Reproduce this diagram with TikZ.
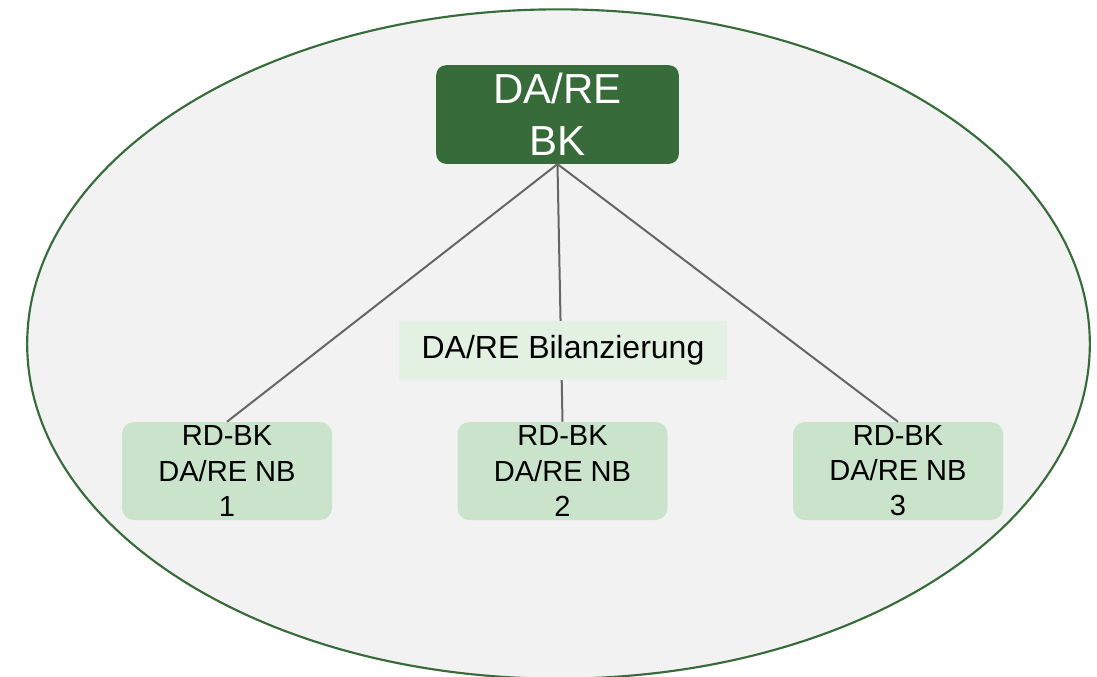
\documentclass[tikz,border=0pt]{standalone}
\usepackage{fontspec}
\setmainfont{Liberation Sans}
\usetikzlibrary{shapes.geometric}
\definecolor{dkgreen}{HTML}{376B3A}
\definecolor{bgray}{HTML}{F2F2F2}
\definecolor{lblgreen}{HTML}{E3F1E3}
\definecolor{boxgreen}{HTML}{C9E4CB}
\definecolor{linegray}{HTML}{666666}
\begin{document}
\begin{tikzpicture}[x=0.75pt,y=-0.75pt,
  topbox/.style={fill=dkgreen, rounded corners=7.5pt, minimum width=182pt, minimum height=74pt, inner sep=0pt, text=white, align=center, font=\fontsize{31.5}{39}\selectfont},
  lblbox/.style={fill=lblgreen, minimum width=246pt, minimum height=44pt, inner sep=0pt, align=center, font=\fontsize{24}{28}\selectfont},
  nbbox/.style={fill=boxgreen, rounded corners=9pt, minimum width=157.5pt, minimum height=73.5pt, inner sep=0pt, align=center, font=\fontsize{21.8}{26.3}\selectfont},
  conn/.style={draw=linegray, line width=1.5pt}]
\useasboundingbox (0,0) rectangle (1097,676);
\begin{scope}
\clip (0,0) rectangle (1097,676);
\node[draw=dkgreen, line width=1.6pt, fill=bgray, ellipse, minimum width=797pt, minimum height=502pt, inner sep=0pt] (ell) at (558.5,344) {};
\end{scope}
\node[topbox] (top) at (557.5,114.5) {DA/RE\\BK};
\node[nbbox] (b1) at (227,471) {RD-BK\\DA/RE NB\\1};
\node[nbbox] (b2) at (562.5,471) {RD-BK\\DA/RE NB\\2};
\node[nbbox] (b3) at (898,471) {RD-BK\\DA/RE NB\\3};
\draw[conn] (top.south) -- (b1.north);
\draw[conn] (top.south) -- (b2.north);
\draw[conn] (top.south) -- (b3.north);
\node[lblbox] (lbl) at (563,350.5) {DA/RE Bilanzierung};
\end{tikzpicture}
\end{document}
